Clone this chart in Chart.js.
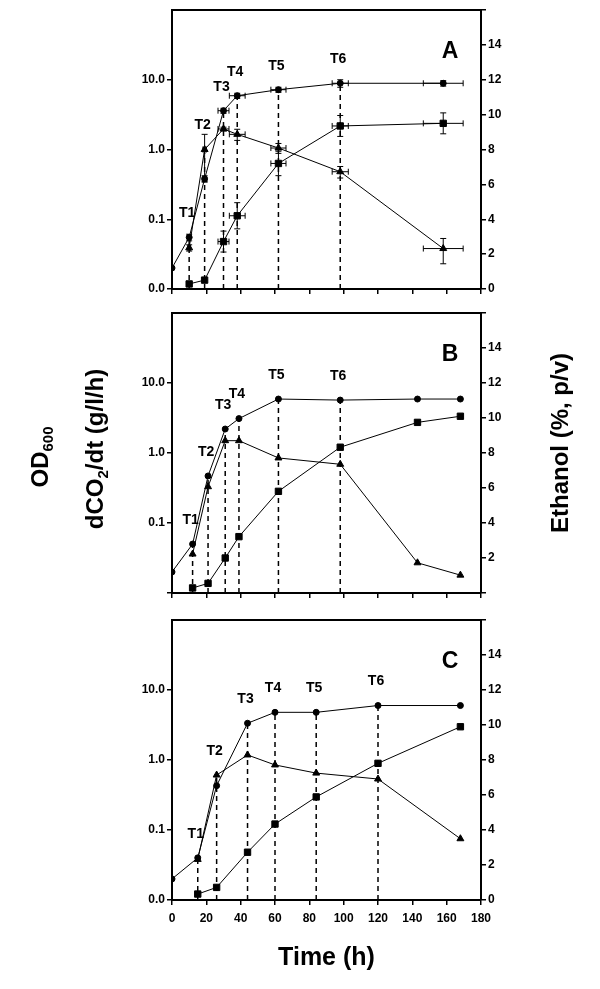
<!DOCTYPE html>
<html>
<head>
<meta charset="utf-8">
<script src="https://cdn.jsdelivr.net/npm/chart.js@4.4.1/dist/chart.umd.min.js"></script>
<style>
  html, body { margin: 0; padding: 0; background: #fff; }
  #wrap { position: relative; width: 600px; height: 989px; overflow: hidden; font-family: 'Liberation Sans', Arial, sans-serif; }
  canvas { position: absolute; left: 0; }
  .ytitle { position: absolute; font-weight: bold; font-size: 24px; white-space: nowrap; color: #000;
            transform: translate(-50%, -50%) rotate(-90deg); }
  .ytitle sub { font-size: 15px; vertical-align: -5px; line-height: 0; }
</style>
</head>
<body>
<div id="wrap">
  <canvas id="chartA" width="600" height="300" style="top:0px"></canvas>
  <canvas id="chartB" width="600" height="305" style="top:300px"></canvas>
  <canvas id="chartC" width="600" height="384" style="top:605px"></canvas>
  <div class="ytitle" style="left:40px;top:457px">OD<sub>600</sub></div>
  <div class="ytitle" style="left:95px;top:449px">dCO<sub>2</sub>/dt (g/l/h)</div>
  <div class="ytitle" style="left:560px;top:443px">Ethanol (%, p/v)</div>
</div>
<script>
const FONT = "'Liberation Sans', Arial, sans-serif";
const T_LABELS = ['T1', 'T2', 'T3', 'T4', 'T5', 'T6'];

// --- Panel A (avec barres d'erreur)
const tTimesA = [10, 19, 30, 38, 62, 98];
const odTimesA = [0, 10, 19, 30, 38, 62, 98, 158];
const odA = [0.02, 0.055, 0.38, 3.6, 5.9, 7.2, 8.9, 8.9];
const odErrA = [0, 0.006, 0.04, 0.3, 0.5, 0.6, 1.1, 0.8];
const odTimeErrA = [0, 0.8, 1, 3.2, 4.6, 4.4, 4.7, 11.6];
const timesA = [10, 19, 30, 38, 62, 98, 158];
const co2A = [0.039, 1.0, 1.97, 1.65, 1.05, 0.48, 0.038];
const co2ErrA = [0.004, 0.65, 0.12, 0.3, 0.17, 0.09, 0.015];
const ethA = [0.29, 0.51, 2.72, 4.2, 7.2, 9.35, 9.5];
const ethErrA = [0, 0, 0.6, 0.75, 0.7, 0.6, 0.6];
const timeErrA = [0.8, 1, 3.2, 4.6, 4.4, 4.7, 11.6];

// --- Panel B
const tTimesB = [12, 21, 31, 39, 62, 98];
const odTimesB = [0, 12, 21, 31, 39, 62, 98, 143, 168];
const odB = [0.02, 0.05, 0.47, 2.2, 3.1, 5.9, 5.7, 5.9, 5.9];
const timesB = [12, 21, 31, 39, 62, 98, 143, 168];
const co2B = [0.036, 0.33, 1.5, 1.5, 0.85, 0.69, 0.027, 0.018];
const ethB = [0.29, 0.55, 2.0, 3.22, 5.81, 8.33, 9.75, 10.1];

// --- Panel C
const tTimesC = [15, 26, 44, 60, 84, 120];
const odTimesC = [0, 15, 26, 44, 60, 84, 120, 168];
const odC = [0.02, 0.04, 0.43, 3.35, 4.8, 4.8, 6.0, 6.0];
const timesC = [15, 26, 44, 60, 84, 120, 168];
const co2C = [0.038, 0.61, 1.18, 0.85, 0.65, 0.535, 0.075];
const ethC = [0.34, 0.72, 2.73, 4.34, 5.89, 7.81, 9.9];

const toPoints = (xs, ys) => xs.map((x, i) => ({ x: x, y: ys[i] }));

// Cadre du haut, lignes pointillées Tn, lettre du panneau
const marksPlugin = {
    id: 'marks',
    beforeDatasetsDraw(chart, args, opts) {
        const { ctx, chartArea } = chart;
        ctx.save();
        ctx.strokeStyle = '#000';
        ctx.lineWidth = 2;
        ctx.beginPath();
        ctx.moveTo(chartArea.left, chartArea.top);
        ctx.lineTo(chartArea.right, chartArea.top);
        ctx.stroke();

        ctx.lineWidth = 1.5;
        ctx.setLineDash([5, 4]);
        opts.times.forEach(t => {
            let top = chartArea.bottom;
            chart.data.datasets.forEach((ds, i) => {
                const j = ds.data.findIndex(p => p.x === t);
                if (j >= 0) top = Math.min(top, chart.getDatasetMeta(i).data[j].y);
            });
            const x = chart.scales.x.getPixelForValue(t);
            ctx.beginPath();
            ctx.moveTo(x, chartArea.bottom);
            ctx.lineTo(x, top);
            ctx.stroke();
        });
        ctx.restore();
    },
    afterDatasetsDraw(chart, args, opts) {
        const { ctx, chartArea } = chart;
        ctx.save();
        ctx.fillStyle = '#000';
        ctx.textAlign = 'center';
        ctx.textBaseline = 'middle';
        ctx.font = 'bold 14px ' + FONT;
        opts.times.forEach((t, k) => {
            let top = chartArea.bottom;
            chart.data.datasets.forEach((ds, i) => {
                const j = ds.data.findIndex(p => p.x === t);
                if (j >= 0) top = Math.min(top, chart.getDatasetMeta(i).data[j].y);
            });
            const x = chart.scales.x.getPixelForValue(t);
            ctx.fillText(opts.labels[k], x - 2, top - 24);
        });
        ctx.font = 'bold 23px ' + FONT;
        ctx.fillText(opts.letter, chartArea.right - 31, chartArea.top + 42);
        ctx.restore();
    }
};

// Barres d'erreur (x et y) lues dans errX / errY du dataset
const errorBarsPlugin = {
    id: 'errorBars',
    afterDatasetsDraw(chart) {
        const ctx = chart.ctx;
        const xs = chart.scales.x;
        ctx.save();
        ctx.strokeStyle = '#000';
        ctx.lineWidth = 1;
        chart.data.datasets.forEach((ds, i) => {
            if (!ds.errX && !ds.errY) return;
            const meta = chart.getDatasetMeta(i);
            const ys = chart.scales[meta.yAxisID];
            ds.data.forEach((p, j) => {
                const pt = meta.data[j];
                const ey = ds.errY ? ds.errY[j] : 0;
                const ex = ds.errX ? ds.errX[j] : 0;
                ctx.beginPath();
                if (ey > 0) {
                    const y1 = ys.getPixelForValue(p.y + ey);
                    const y2 = ys.getPixelForValue(Math.max(p.y - ey, ys.min));
                    ctx.moveTo(pt.x, y1); ctx.lineTo(pt.x, y2);
                    ctx.moveTo(pt.x - 3, y1); ctx.lineTo(pt.x + 3, y1);
                    ctx.moveTo(pt.x - 3, y2); ctx.lineTo(pt.x + 3, y2);
                }
                if (ex > 0) {
                    const x1 = xs.getPixelForValue(p.x - ex);
                    const x2 = xs.getPixelForValue(p.x + ex);
                    ctx.moveTo(x1, pt.y); ctx.lineTo(x2, pt.y);
                    ctx.moveTo(x1, pt.y - 3); ctx.lineTo(x1, pt.y + 3);
                    ctx.moveTo(x2, pt.y - 3); ctx.lineTo(x2, pt.y + 3);
                }
                ctx.stroke();
            });
        });
        ctx.restore();
    }
};

function series(data, style, radius, axis, extra) {
    return Object.assign({
        data: data,
        yAxisID: axis,
        borderColor: '#000',
        backgroundColor: '#000',
        borderWidth: 1,
        pointStyle: style,
        pointRadius: radius,
        pointBorderWidth: 1,
        tension: 0,
        fill: false
    }, extra || {});
}

function makePanel(canvasId, cfg) {
    const tickFont = { family: FONT, size: 12, weight: 'bold' };
    const axisGrid = { display: true, drawOnChartArea: false, drawTicks: true, tickLength: 5, color: '#000', lineWidth: 1.5 };
    const axisBorder = { display: true, color: '#000', width: 2 };

    return new Chart(document.getElementById(canvasId).getContext('2d'), {
        type: 'line',
        data: { datasets: cfg.datasets },
        plugins: [marksPlugin, errorBarsPlugin],
        options: {
            responsive: false,
            animation: false,
            events: [],
            layout: { padding: { top: cfg.padTop, left: 0, right: 0, bottom: 0 } },
            plugins: {
                legend: { display: false },
                tooltip: { enabled: false },
                marks: { times: cfg.tTimes, labels: T_LABELS, letter: cfg.letter }
            },
            scales: {
                x: {
                    type: 'linear', min: 0, max: 180,
                    ticks: { stepSize: 20, display: cfg.showX, color: '#000', font: tickFont, padding: 6, maxRotation: 0 },
                    grid: axisGrid,
                    border: axisBorder,
                    title: {
                        display: cfg.showX, text: 'Time (h)', color: '#000',
                        font: { family: FONT, size: 25, weight: 'bold' },
                        padding: { top: 0, bottom: 16 }
                    },
                    afterFit: s => { s.height = cfg.xHeight; }
                },
                y: {
                    type: 'logarithmic', position: 'left', min: 0.01, max: 100,
                    afterBuildTicks: s => { s.ticks = [0.01, 0.1, 1, 10].map(v => ({ value: v })); },
                    ticks: {
                        color: '#000', font: tickFont, padding: 2,
                        callback: v => (cfg.hideZero && v === 0.01) ? '' : Number(v).toFixed(1)
                    },
                    grid: axisGrid,
                    border: axisBorder,
                    afterFit: s => { s.width = 172; }
                },
                y2: {
                    type: 'linear', position: 'right', min: 0, max: 16,
                    ticks: {
                        stepSize: 2, color: '#000', font: tickFont, padding: 2,
                        callback: v => (v === 16 || (cfg.hideZero && v === 0)) ? '' : v
                    },
                    grid: axisGrid,
                    border: axisBorder,
                    afterFit: s => { s.width = 119; }
                }
            }
        }
    });
}

makePanel('chartA', {
    letter: 'A', tTimes: tTimesA, padTop: 10, xHeight: 11, showX: false, hideZero: false,
    datasets: [
        series(toPoints(odTimesA, odA), 'circle', 3, 'y', { errY: odErrA, errX: odTimeErrA }),
        series(toPoints(timesA, co2A), 'triangle', 4, 'y', { errY: co2ErrA, errX: timeErrA }),
        series(toPoints(timesA, ethA), 'rect', 4.5, 'y2', { errY: ethErrA, errX: timeErrA })
    ]
});

makePanel('chartB', {
    letter: 'B', tTimes: tTimesB, padTop: 13, xHeight: 12, showX: false, hideZero: true,
    datasets: [
        series(toPoints(odTimesB, odB), 'circle', 3, 'y'),
        series(toPoints(timesB, co2B), 'triangle', 4, 'y'),
        series(toPoints(timesB, ethB), 'rect', 4.5, 'y2')
    ]
});

makePanel('chartC', {
    letter: 'C', tTimes: tTimesC, padTop: 15, xHeight: 89, showX: true, hideZero: false,
    datasets: [
        series(toPoints(odTimesC, odC), 'circle', 3, 'y'),
        series(toPoints(timesC, co2C), 'triangle', 4, 'y'),
        series(toPoints(timesC, ethC), 'rect', 4.5, 'y2')
    ]
});
</script>
</body>
</html>
